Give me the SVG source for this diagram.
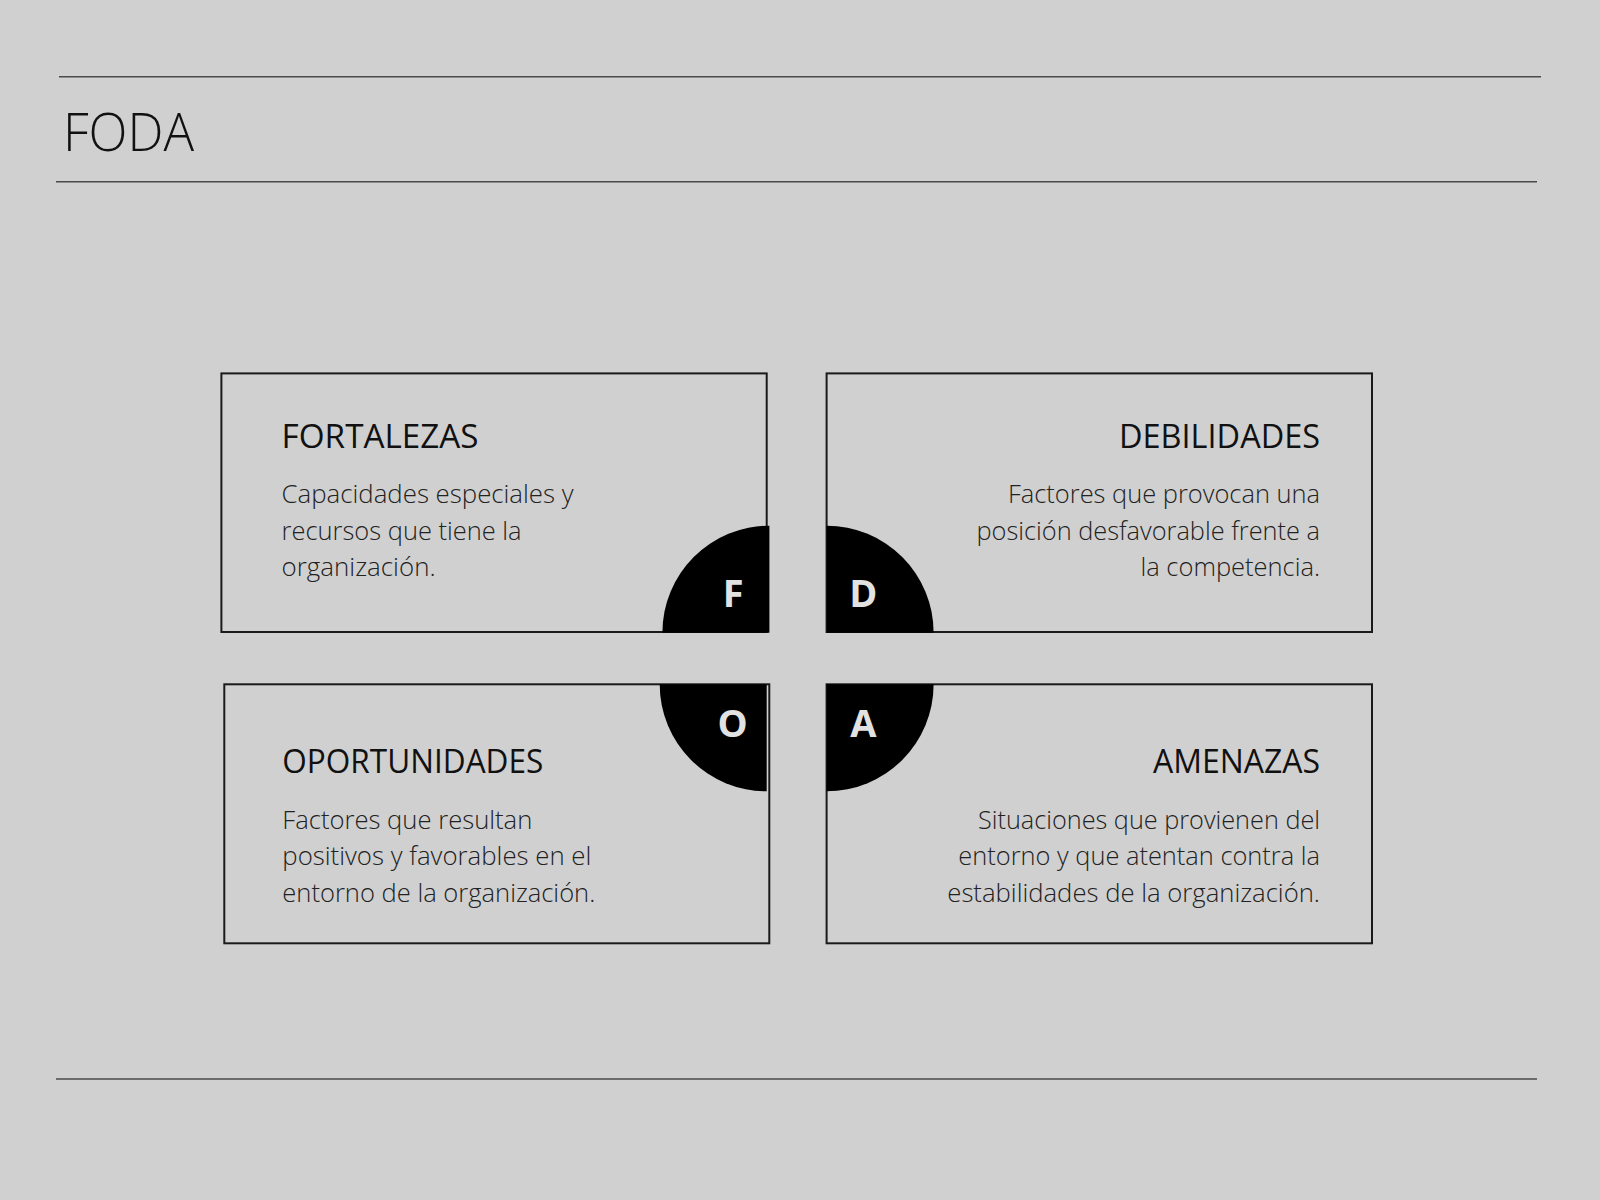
<svg xmlns="http://www.w3.org/2000/svg" width="1600" height="1200" viewBox="0 0 1600 1200">
  <style>
    .rule { stroke: #4a4a4a; stroke-width: 1.6; fill: none; }
    .box { fill: none; stroke: #1a1a1a; stroke-width: 2; }
    .quad { fill: #000000; }
    .letter { font-family: "Open Sans", "Liberation Sans", sans-serif; font-weight: 700; font-size: 38px; fill: #e2e2e2; text-anchor: middle; }
    .title { font-family: "Open Sans", "Liberation Sans", sans-serif; font-weight: 300; font-size: 53px; fill: #111111; }
    .head { font-family: "Open Sans", "Liberation Sans", sans-serif; font-weight: 400; font-size: 32px; fill: #111111; }
    .body { font-family: "Open Sans", "Liberation Sans", sans-serif; font-weight: 300; font-size: 26px; fill: #222222; }
  </style>
  <rect x="0" y="0" width="1600" height="1200" fill="#d0d0d0"/>

  <g id="header">
    <line class="rule" x1="59" y1="76.7" x2="1541" y2="76.7"/>
    <text class="title" x="63" y="150.7" textLength="131" lengthAdjust="spacingAndGlyphs">FODA</text>
    <line class="rule" x1="56" y1="181.7" x2="1537" y2="181.7"/>
  </g>

  <g id="fortalezas">
    <rect class="box" x="221.4" y="373.4" width="545.3" height="258.6"/>
    <path class="quad" d="M769.4 632.7 L662.4 632.7 A107 107 0 0 1 769.4 525.7 Z"/>
    <text class="letter" x="733.3" y="607.3">F</text>
    <text class="head" x="281.6" y="447.7" textLength="197" lengthAdjust="spacingAndGlyphs">FORTALEZAS</text>
    <text class="body" x="281.6" y="503.3" textLength="292" lengthAdjust="spacingAndGlyphs">Capacidades especiales y</text>
    <text class="body" x="281.6" y="539.5" textLength="240" lengthAdjust="spacingAndGlyphs">recursos que tiene la</text>
    <text class="body" x="281.6" y="575.7" textLength="154" lengthAdjust="spacingAndGlyphs">organización.</text>
  </g>

  <g id="debilidades">
    <rect class="box" x="826.6" y="373.4" width="545.4" height="258.6"/>
    <path class="quad" d="M826.6 632.7 L826.6 525.7 A107 107 0 0 1 933.6 632.7 Z"/>
    <text class="letter" x="863.3" y="607.3">D</text>
    <text class="head" x="1119" y="447.7" textLength="201" lengthAdjust="spacingAndGlyphs">DEBILIDADES</text>
    <text class="body" x="1008" y="503.3" textLength="312" lengthAdjust="spacingAndGlyphs">Factores que provocan una</text>
    <text class="body" x="976.5" y="539.5" textLength="343.5" lengthAdjust="spacingAndGlyphs">posición desfavorable frente a</text>
    <text class="body" x="1140.5" y="575.7" textLength="179.5" lengthAdjust="spacingAndGlyphs">la competencia.</text>
  </g>

  <g id="oportunidades">
    <rect class="box" x="224.3" y="684.3" width="545" height="259"/>
    <path class="quad" d="M766.7 684.3 L766.7 791.3 A107 107 0 0 1 659.7 684.3 Z"/>
    <text class="letter" x="732.5" y="736.5">O</text>
    <text class="head" x="282.3" y="773.3" textLength="261" lengthAdjust="spacingAndGlyphs">OPORTUNIDADES</text>
    <text class="body" x="282.3" y="829.3" textLength="250" lengthAdjust="spacingAndGlyphs">Factores que resultan</text>
    <text class="body" x="282.3" y="865" textLength="309" lengthAdjust="spacingAndGlyphs">positivos y favorables en el</text>
    <text class="body" x="282.3" y="901.7" textLength="313" lengthAdjust="spacingAndGlyphs">entorno de la organización.</text>
  </g>

  <g id="amenazas">
    <rect class="box" x="826.6" y="684.3" width="545.4" height="259"/>
    <path class="quad" d="M826.6 684.3 L933.6 684.3 A107 107 0 0 1 826.6 791.3 Z"/>
    <text class="letter" x="863.3" y="736.5">A</text>
    <text class="head" x="1153" y="773.3" textLength="167" lengthAdjust="spacingAndGlyphs">AMENAZAS</text>
    <text class="body" x="978" y="829.3" textLength="342" lengthAdjust="spacingAndGlyphs">Situaciones que provienen del</text>
    <text class="body" x="958.3" y="865" textLength="361.7" lengthAdjust="spacingAndGlyphs">entorno y que atentan contra la</text>
    <text class="body" x="947.3" y="901.7" textLength="372.7" lengthAdjust="spacingAndGlyphs">estabilidades de la organización.</text>
  </g>

  <g id="footer">
    <line class="rule" x1="56" y1="1079" x2="1537" y2="1079"/>
  </g>

  <g id="connectors"></g>
</svg>
